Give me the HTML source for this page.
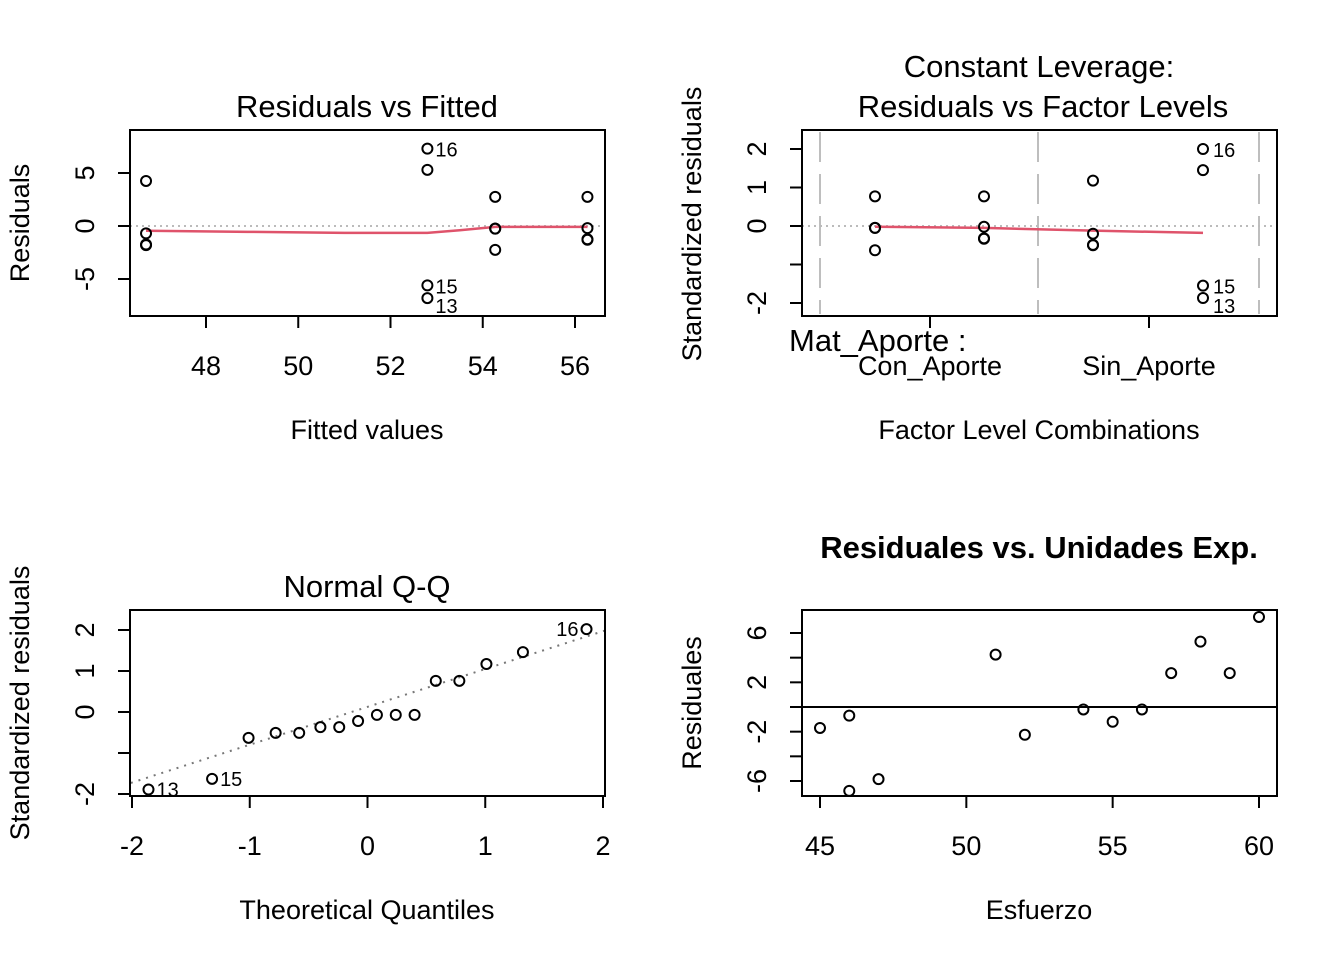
<!DOCTYPE html>
<html><head><meta charset="utf-8"><style>
html,body{margin:0;padding:0;background:#fff;}
svg{display:block;font-family:"Liberation Sans",Arial,sans-serif;}
</style></head><body>
<svg id="c" width="1344" height="960"></svg>
<script>
// Panel 1: Residuals vs Fitted
const p1Fitted = [46.7,46.7,46.7,46.7,52.8,52.8,52.8,52.8,54.27,54.27,54.27,54.27,56.27,56.27,56.27,56.27];
const p1Resid  = [4.25,-0.7,-1.8,-1.75,7.3,5.3,-5.6,-6.8,2.75,-0.25,-2.25,-0.25,2.75,-0.2,-1.3,-1.25];
const p1Labels = {4:"16",6:"15",7:"13"};
const p1SmoothX = [46.7,48.9,51.0,52.8,53.5,54.27,56.27];
const p1SmoothY = [-0.45,-0.55,-0.65,-0.65,-0.4,-0.08,-0.08];
const p1XTicks = [48,50,52,54,56];
const p1YTicks = [-5,0,5];
// Panel 2: Constant leverage
const p2Levels = [0,0,0,0,1,1,1,1,2,2,2,2,3,3,3,3];
const p2Std = [0.77,-0.05,-0.63,-0.05,0.77,-0.02,-0.33,-0.32,1.18,-0.2,-0.5,-0.49,2.0,1.45,-1.55,-1.87];
const p2Labels = {12:"16",14:"15",15:"13"};
const p2SmoothY = [-0.02,-0.05,-0.12,-0.18];
const p2YTicks = [-2,-1,0,1,2];
const p2YLabels = ["-2","","0","1","2"];
// Panel 3: Normal Q-Q
const qqTheo = [-1.86,-1.32,-1.01,-0.78,-0.58,-0.40,-0.24,-0.08,0.08,0.24,0.40,0.58,0.78,1.01,1.32,1.86];
const qqSample = [-1.89,-1.63,-0.63,-0.51,-0.51,-0.37,-0.37,-0.22,-0.07,-0.07,-0.07,0.76,0.76,1.17,1.46,2.02];
const qqLabels = {0:"13",1:"15",15:"16"};
const qqIntercept = 0.125, qqSlope = 0.923;
const p3XTicks = [-2,-1,0,1,2];
const p3YTicks = [-2,-1,0,1,2];
const p3YLabels = ["-2","","0","1","2"];
// Panel 4: Residuales vs Esfuerzo
const p4X = [45,46,46,47,51,52,54,55,56,57,58,59,60];
const p4Y = [-1.7,-0.7,-6.8,-5.85,4.25,-2.25,-0.2,-1.2,-0.2,2.75,5.3,2.75,7.3];
const p4XTicks = [45,50,55,60];
const p4YTicks = [-6,-4,-2,0,2,4,6];
const p4YLabels = ["-6","","-2","","2","","6"];

const NS="http://www.w3.org/2000/svg", svg=document.getElementById('c');
const FS=27, TFS=31, LFS=20;
function el(t,a,txt){const e=document.createElementNS(NS,t);for(const k in a)e.setAttribute(k,a[k]);if(txt!==undefined)e.textContent=txt;svg.appendChild(e);return e;}
function lin(d0,d1,r0,r1){return v=>r0+(v-d0)*(r1-r0)/(d1-d0);}
function box(x0,y0,x1,y1,name){const r=el('rect',{x:x0,y:y0,width:x1-x0,height:y1-y0,fill:'none',stroke:'#000','stroke-width':2});

}
function pt(x,y,name){const c=el('circle',{cx:x,cy:y,r:5,fill:'none',stroke:'#000','stroke-width':2});

}
function txt(x,y,s,o,name){const a=Object.assign({x:x,y:y,'font-size':FS,fill:'#000'},o||{});const t=el('text',a,s);

return t;}
function xTicks(ticks,sx,yb,labels,name){ticks.forEach((v,i)=>{const x=sx(v);el('line',{x1:x,y1:yb,x2:x,y2:yb+12,stroke:'#000','stroke-width':2});
if(labels)txt(x,yb+59,labels[i],{'text-anchor':'middle'},name+'-tick-label');});}
function yTicks(ticks,sy,xl,labels,lx,name){ticks.forEach((v,i)=>{const y=sy(v);el('line',{x1:xl-12,y1:y,x2:xl,y2:y,stroke:'#000','stroke-width':2});
if(labels[i])txt(lx,y,labels[i],{'text-anchor':'middle',transform:`rotate(-90 ${lx} ${y})`},name+'-tick-label');});}
function polyline(xs,ys,stroke,w,dash,name){const p=el('polyline',{points:xs.map((x,i)=>x+','+ys[i]).join(' '),fill:'none',stroke:stroke,'stroke-width':w});if(dash)p.setAttribute('stroke-dasharray',dash);

}

// ---- Panel 1
{const sx=lin(48,56,206,575), sy=lin(0,5,226,173);
el('line',{x1:130,y1:226,x2:605,y2:226,stroke:'#bbb','stroke-width':2,'stroke-dasharray':'2,4'});
polyline(p1SmoothX.map(sx),p1SmoothY.map(sy),'#DF536B',2.5,null,'smooth-line-1');
p1Fitted.forEach((f,i)=>{pt(sx(f),sy(p1Resid[i]),'residual-point');if(p1Labels[i])txt(sx(f)+8,sy(p1Resid[i])+(i==7?15:8),p1Labels[i],{'font-size':LFS},'point-label');});
box(130,130,605,316,'plot-box-1');
xTicks(p1XTicks,sx,316,p1XTicks.map(String),'x1');
yTicks(p1YTicks,sy,130,p1YTicks.map(String),94,'y1');
txt(367,117,'Residuals vs Fitted',{'text-anchor':'middle','font-size':TFS},'title-1');
txt(367,439,'Fitted values',{'text-anchor':'middle'},'x-axis-title-1');
txt(29,223,'Residuals',{'text-anchor':'middle',transform:'rotate(-90 29 223)'},'y-axis-title-1');}

// ---- Panel 2
{const colX=[875,984,1093,1203], sy=lin(0,2,226,149);
[820,1038,1259].forEach(x=>el('line',{x1:x,y1:132,x2:x,y2:314,stroke:'#bebebe','stroke-width':2,'stroke-dasharray':'30,12'}));
el('line',{x1:802,y1:226,x2:1277,y2:226,stroke:'#bbb','stroke-width':2,'stroke-dasharray':'2,4'});
polyline(colX,p2SmoothY.map(sy),'#DF536B',2.5,null,'smooth-line-2');
p2Levels.forEach((l,i)=>{pt(colX[l],sy(p2Std[i]),'std-residual-point');if(p2Labels[i])txt(colX[l]+10,sy(p2Std[i])+(i==15?15:8),p2Labels[i],{'font-size':LFS},'point-label');});
box(802,130,1277,316,'plot-box-2');
[930,1149].forEach(x=>el('line',{x1:x,y1:316,x2:x,y2:328,stroke:'#000','stroke-width':2}));
txt(930,375,'Con_Aporte',{'text-anchor':'middle'},'factor-level-label');
txt(1149,375,'Sin_Aporte',{'text-anchor':'middle'},'factor-level-label');
txt(789,351,'Mat_Aporte :',{'font-size':TFS},'factor-name-label');
yTicks(p2YTicks,sy,802,p2YLabels,766,'y2');
txt(1039,77,'Constant Leverage:',{'text-anchor':'middle','font-size':TFS},'title-2a');
txt(1043,117,'Residuals vs Factor Levels',{'text-anchor':'middle','font-size':TFS},'title-2b');
txt(1039,439,'Factor Level Combinations',{'text-anchor':'middle'},'x-axis-title-2');
txt(701,224,'Standardized residuals',{'text-anchor':'middle',transform:'rotate(-90 701 224)'},'y-axis-title-2');}

// ---- Panel 3
{const sx=lin(-2,2,132,603), sy=lin(0,2,712,630);
const lx=[-2.01,2.02];
polyline(lx.map(sx),lx.map(v=>sy(qqIntercept+qqSlope*v)),'#777',2,'2,6','qq-line');
qqTheo.forEach((t,i)=>{pt(sx(t),sy(qqSample[i]),'qq-point');if(qqLabels[i]){if(i==15)txt(sx(t)-8,sy(qqSample[i])+7,qqLabels[i],{'font-size':LFS,'text-anchor':'end'},'point-label');else txt(sx(t)+8,sy(qqSample[i])+7,qqLabels[i],{'font-size':LFS},'point-label');}});
box(130,610,605,796,'plot-box-3');
xTicks(p3XTicks,sx,796,p3XTicks.map(String),'x3');
yTicks(p3YTicks,sy,130,p3YLabels,94,'y3');
txt(367,597,'Normal Q-Q',{'text-anchor':'middle','font-size':TFS},'title-3');
txt(367,919,'Theoretical Quantiles',{'text-anchor':'middle'},'x-axis-title-3');
txt(29,703,'Standardized residuals',{'text-anchor':'middle',transform:'rotate(-90 29 703)'},'y-axis-title-3');}

// ---- Panel 4
{const sx=lin(45,60,820,1259), sy=lin(0,6,707,633);
el('line',{x1:802,y1:sy(0),x2:1277,y2:sy(0),stroke:'#000','stroke-width':2});
p4X.forEach((x,i)=>pt(sx(x),sy(p4Y[i]),'residual-point'));
box(802,610,1277,796,'plot-box-4');
xTicks(p4XTicks,sx,796,p4XTicks.map(String),'x4');
yTicks(p4YTicks,sy,802,p4YLabels,766,'y4');
txt(1039,558,'Residuales vs. Unidades Exp.',{'text-anchor':'middle','font-size':TFS,'font-weight':'bold'},'title-4');
txt(1039,919,'Esfuerzo',{'text-anchor':'middle'},'x-axis-title-4');
txt(701,703,'Residuales',{'text-anchor':'middle',transform:'rotate(-90 701 703)'},'y-axis-title-4');}
</script>
</body></html>
